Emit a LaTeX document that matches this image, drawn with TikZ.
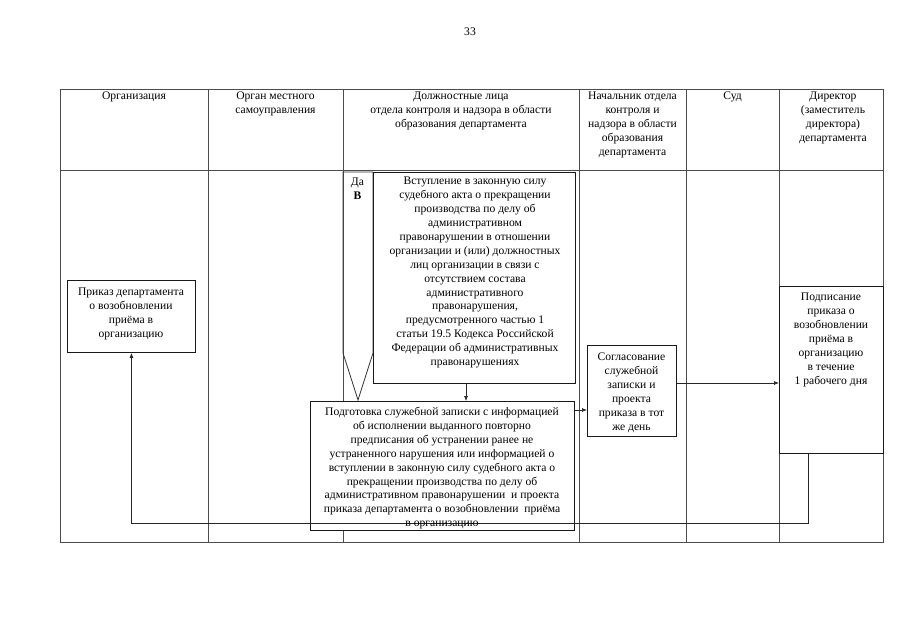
\documentclass[tikz,border=0pt]{standalone}
\usepackage{fontspec}
\setmainfont{Liberation Serif}
\usetikzlibrary{arrows.meta,calc}
\tikzset{
  gridline/.style={draw=black!70, line width=0.7pt},
  box/.style={draw=black!90, line width=0.9pt, inner sep=0pt, rectangle, anchor=north west},
  txt/.style={align=center, inner sep=0pt, anchor=north, font=\fontsize{11.6}{13.9}\selectfont},
  arr/.style={draw=black!85, line width=0.7pt, -{Latex[length=5pt,width=4pt]}},
}
\begin{document}
\begin{tikzpicture}[x=1pt,y=-1pt]
\useasboundingbox (0,0) rectangle (905,640);
% page number
\node[txt] (pg) at (470,28) {33};
% table grid
\draw[gridline] (60,89) rectangle (883,542);
\draw[gridline] (60,170) -- (883,170);
\foreach \cx in {208,343,579,686,779} \draw[gridline] (\cx,89) -- (\cx,542);
% header texts
\node[txt] (h1) at (134,92) {Организация};
\node[txt] (h2) at (275.5,92) {Орган местного\\самоуправления};
\node[txt] (h3) at (461,92) {Должностные лица\\отдела контроля и надзора в области\\образования департамента};
\node[txt] (h4) at (632.5,92) {Начальник отдела\\контроля и\\надзора в области\\образования\\департамента};
\node[txt] (h5) at (732.5,92) {Суд};
\node[txt] (h6) at (833,92) {Директор\\(заместитель\\директора)\\департамента};
% Да / В pentagon
\draw[draw=black!80, line width=0.8pt] (343,172) -- (373,172) -- (373,353) -- (358,400) -- (343,353) -- cycle;
\node[txt] (da) at (357.5,178) {Да\\\textbf{В}};
% top box
\node[box, line width=1.2pt, minimum width=202pt, minimum height=211pt] (vst) at (373,172) {};
\node[txt] (vstt) at (475,177) {Вступление в законную силу\\судебного акта о прекращении\\производства по делу об\\административном\\правонарушении в отношении\\организации и (или) должностных\\лиц организации в связи с\\отсутствием состава\\административного\\правонарушения,\\предусмотренного частью 1\\статьи 19.5 Кодекса Российской\\Федерации об административных\\правонарушениях};
% bottom box
\node[box, minimum width=264pt, minimum height=129pt, fill=white] (pod) at (310,401) {};
% left box
\node[box, minimum width=128pt, minimum height=72pt] (prik) at (67,280) {};
\node[txt] (prikt) at (131,288) {Приказ департамента\\о возобновлении\\приёма в\\организацию};
% soglasovanie box
\node[box, minimum width=89pt, minimum height=91pt] (sog) at (587,345) {};
\node[txt] (sogt) at (631.5,353) {Согласование\\служебной\\записки и\\проекта\\приказа в тот\\же день};
% director box
\node[box, minimum width=104pt, minimum height=167pt] (dir) at (779,286) {};
\node[txt] (dirt) at (831,293) {Подписание\\приказа о\\возобновлении\\приёма в\\организацию\\в течение\\1 рабочего дня};
% connectors
\coordinate (a1) at (466,0);
\coordinate (a2) at (0,410);
\coordinate (a3) at (0,383);
\coordinate (ret) at (808,523);
\draw[arr] (vst.south -| a1) -- (pod.north -| a1);
\draw[arr] (pod.east |- a2) -- (sog.west |- a2);
\draw[arr] (sog.east |- a3) -- (dir.west |- a3);
\draw[arr] (dir.south -| ret) -- (ret) -| (prik.south);
% bottom box text (over the return line)
\node[txt] (podt) at (442,407) {Подготовка служебной записки с информацией\\об исполнении выданного повторно\\предписания об устранении ранее не\\устраненного нарушения или информацией о\\вступлении в законную силу судебного акта о\\прекращении производства по делу об\\административном правонарушении \ и проекта\\приказа департамента о возобновлении \ приёма\\в организацию};
\end{tikzpicture}
\end{document}
